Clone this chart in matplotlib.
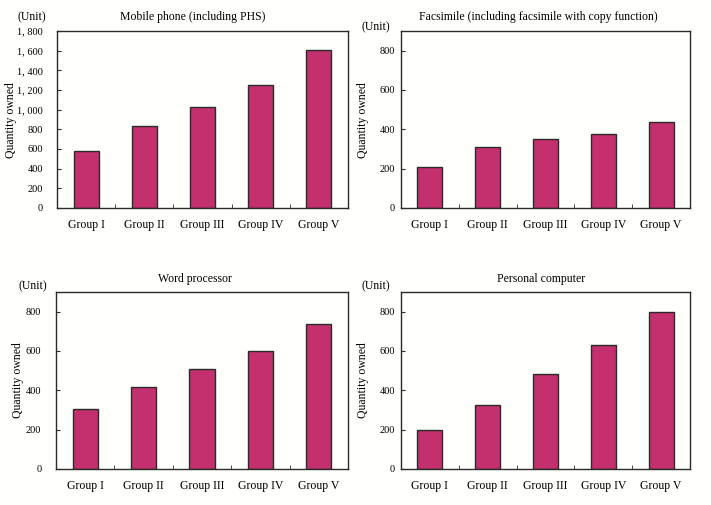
import matplotlib.pyplot as plt
from matplotlib.ticker import FuncFormatter, FixedLocator

plt.rcParams['font.family'] = ['Liberation Serif', 'DejaVu Serif']

groups = ['Group I', 'Group II', 'Group III', 'Group IV', 'Group V']

mobile = [577, 835, 1032, 1250, 1603]
fax = [210, 308, 353, 375, 436]
wordproc = [305, 419, 510, 598, 736]
pc = [197, 324, 481, 632, 800]

titles = ['Mobile phone (including PHS)',
          'Facsimile (including facsimile with copy function)',
          'Word processor',
          'Personal computer']

W, H = 711, 505
bar_color = '#c4306e'
edge_color = '#2a2a2a'
bg = '#fffffb'

fig = plt.figure(figsize=(W / 100, H / 100), dpi=100, facecolor=bg)


def px(x, y):
    return x / W, 1 - y / H


# pixel boxes (left, top, right, bottom); pad in points; text positions in pixels
panels = [
    dict(box=(57, 31, 348, 208), data=mobile, ymax=1800, ticks=range(0, 1801, 200),
         pad=10, title=(193, 17), unit=(32, 17), ylab=(11, 120)),
    dict(box=(401, 31, 690, 208), data=fax, ymax=900, ticks=range(0, 801, 200),
         pad=4.3, title=(538, 17), unit=(376, 27), ylab=(363, 120)),
    dict(box=(56, 292, 348, 469), data=wordproc, ymax=900, ticks=range(0, 801, 200),
         pad=10.5, title=(195, 279), unit=(33, 286), ylab=(18, 380)),
    dict(box=(401, 292, 690, 469), data=pc, ymax=900, ticks=range(0, 801, 200),
         pad=4.3, title=(541, 279), unit=(376, 286), ylab=(363, 380)),
]

for p, title in zip(panels, titles):
    l, t, r, b = p['box']
    ax = fig.add_axes([l / W, 1 - b / H, (r - l) / W, (b - t) / H])
    ax.set_facecolor(bg)
    x = range(len(groups))
    ax.bar(x, p['data'], width=0.43, color=bar_color, edgecolor=edge_color, linewidth=1.0)
    ax.set_xlim(-0.5, len(groups) - 0.5)
    ax.set_ylim(0, p['ymax'])
    ax.set_xticks(list(x))
    ax.set_xticklabels(groups, fontsize=8.5)
    ax.xaxis.set_minor_locator(FixedLocator([0.5, 1.5, 2.5, 3.5]))
    ax.tick_params(axis='x', which='major', length=0, pad=8)
    ax.tick_params(axis='x', which='minor', direction='in', length=3, color=edge_color)
    ax.set_yticks(list(p['ticks']))
    ax.yaxis.set_major_formatter(FuncFormatter(lambda v, _: f'{v:,.0f}'.replace(',', ', ')))
    ax.tick_params(axis='y', direction='in', length=3, pad=p['pad'], labelsize=7.5, color=edge_color)
    for s in ax.spines.values():
        s.set_color(edge_color)
        s.set_linewidth(1.0)

    fig.text(*px(*p['title']), title, ha='center', va='center', fontsize=8.5)
    fig.text(*px(*p['unit']), '(Unit)', ha='center', va='center', fontsize=8.5)
    fig.text(*px(*p['ylab']), 'Quantity owned', ha='center', va='center',
             rotation=90, fontsize=8.5)

fig.savefig('out.png', dpi=100, facecolor=bg)
